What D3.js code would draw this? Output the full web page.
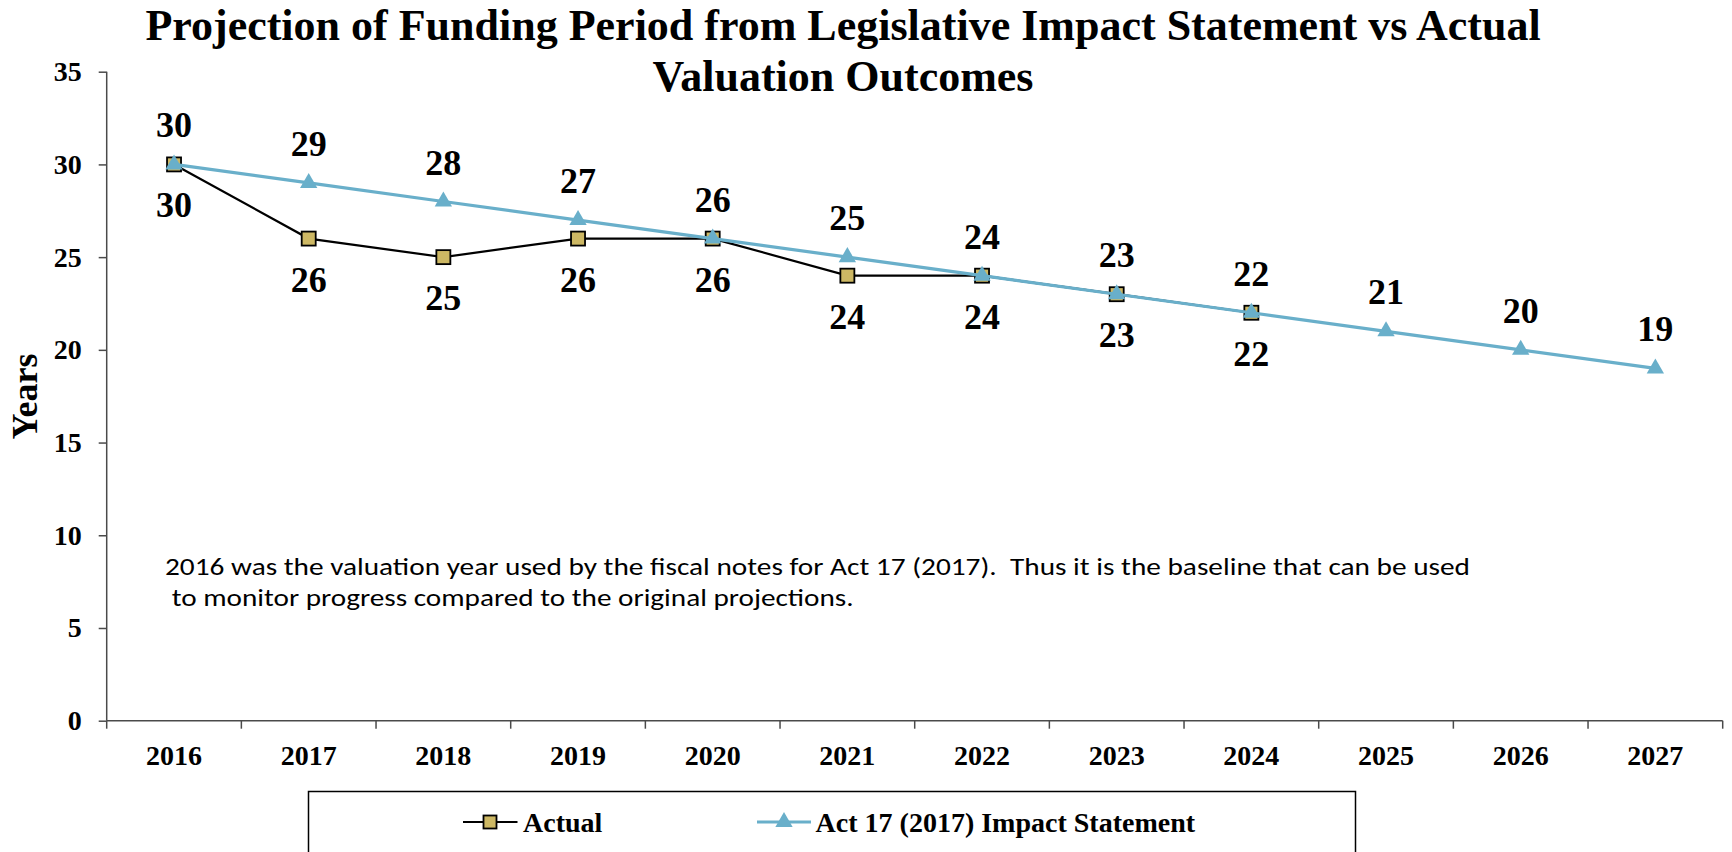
<!DOCTYPE html>
<html>
<head>
<meta charset="utf-8">
<script src="https://cdn.jsdelivr.net/npm/d3@7"></script>
<style>
  html, body { margin: 0; padding: 0; background: #fff; }
  svg { display: block; }
</style>
</head>
<body>
<script>
const years = ["2016","2017","2018","2019","2020","2021","2022","2023","2024","2025","2026","2027"];
const actual = [30, 26, 25, 26, 26, 24, 24, 23, 22];
const impact = [30, 29, 28, 27, 26, 25, 24, 23, 22, 21, 20, 19];
const yTicks = [0, 5, 10, 15, 20, 25, 30, 35];
const seriesNames = ["Actual", "Act 17 (2017) Impact Statement"];
const titleLines = ["Projection of Funding Period from Legislative Impact Statement vs Actual", "Valuation Outcomes"];
const noteLines = ["2016 was the valuation year used by the fiscal notes for Act 17 (2017).  Thus it is the baseline that can be used", "to monitor progress compared to the original projections."];

const W = 1732, H = 852;
const serif = "'Liberation Serif','Times New Roman',serif";
const blue = "#69AFCA", tan = "#CDB864", axisCol = "#4a4a4a";

const svg = d3.select("body").append("svg").attr("width", W).attr("height", H);

const x = d3.scaleBand().domain(years).range([106.7, 1722.7]).padding(0);
const y = d3.scaleLinear().domain([0, 35]).range([720.7, 71.7]);
const cx = d => x(d) + x.bandwidth() / 2;

// Title
svg.append("g").selectAll("text").data(titleLines).join("text")
  .attr("x", 843).attr("y", (d, i) => 39.5 + i * 51)
  .attr("text-anchor", "middle")
  .style("font-family", serif).style("font-weight", "bold").style("font-size", "44px")
  .text(d => d);

// Y axis
const yAxis = svg.append("g").attr("transform", `translate(${x.range()[0]},0)`)
  .call(d3.axisLeft(y).tickValues(yTicks).tickSize(8).tickPadding(17).tickFormat(d3.format("d")));
yAxis.select(".domain").attr("stroke", axisCol).attr("stroke-width", 1.5).attr("d", `M0,${y(35)}V${y(0)}`);
yAxis.selectAll(".tick line").attr("stroke", axisCol).attr("stroke-width", 1.5);
yAxis.selectAll(".tick text").style("font-family", serif).style("font-weight", "bold").style("font-size", "28px").attr("fill", "#000");

// X axis
const xAxis = svg.append("g").attr("transform", `translate(0,${y(0)})`)
  .call(d3.axisBottom(x).tickSize(0).tickPadding(24));
xAxis.select(".domain").attr("stroke", axisCol).attr("stroke-width", 1.5).attr("d", `M${x.range()[0]},0H${x.range()[1]}`);
xAxis.selectAll(".tick text").style("font-family", serif).style("font-weight", "bold").style("font-size", "28px").attr("fill", "#000");
const bounds = years.map(d => x(d)).concat([x.range()[1]]);
xAxis.append("g").selectAll("line").data(bounds).join("line")
  .attr("x1", d => d).attr("x2", d => d).attr("y1", 0).attr("y2", 8)
  .attr("stroke", axisCol).attr("stroke-width", 1.5);

// Y axis title
svg.append("text")
  .attr("transform", `translate(37.3,396.5) rotate(-90)`)
  .attr("text-anchor", "middle")
  .style("font-family", serif).style("font-weight", "bold").style("font-size", "36px")
  .text("Years");

// Note text
const noteFont = "Carlito,'Liberation Sans Narrow','Open Sans',sans-serif";
const note = svg.append("g");
note.append("text").attr("x", 165).attr("y", 575)
  .attr("textLength", 1305).attr("lengthAdjust", "spacingAndGlyphs")
  .style("white-space", "pre")
  .style("font-family", noteFont).style("font-size", "25px")
  .text(noteLines[0]);
note.append("text").attr("x", 171.7).attr("y", 605.5)
  .attr("textLength", 682).attr("lengthAdjust", "spacingAndGlyphs")
  .style("font-family", noteFont).style("font-size", "25px")
  .text(noteLines[1]);

// Lines
const actualData = actual.map((v, i) => ({ k: years[i], v }));
const impactData = impact.map((v, i) => ({ k: years[i], v }));
const line = d3.line().x(d => cx(d.k)).y(d => y(d.v));

svg.append("path").datum(actualData).attr("d", line)
  .attr("fill", "none").attr("stroke", "#000").attr("stroke-width", 2.2);
svg.append("g").selectAll("rect").data(actualData).join("rect")
  .attr("x", d => cx(d.k) - 7).attr("y", d => y(d.v) - 7)
  .attr("width", 14).attr("height", 14)
  .attr("fill", tan).attr("stroke", "#000").attr("stroke-width", 1.8);

svg.append("path").datum(impactData).attr("d", line)
  .attr("fill", "none").attr("stroke", blue).attr("stroke-width", 3.2);
const tri = d3.symbol().type(d3.symbolTriangle).size(130);
svg.append("g").selectAll("path").data(impactData).join("path")
  .attr("transform", d => `translate(${cx(d.k)},${y(d.v)})`)
  .attr("d", tri).attr("fill", blue);

// Data labels
svg.append("g").selectAll("text").data(actualData).join("text")
  .attr("x", d => cx(d.k)).attr("y", d => y(d.v) + 53)
  .attr("text-anchor", "middle")
  .style("font-family", serif).style("font-weight", "bold").style("font-size", "36px")
  .text(d => d.v);
svg.append("g").selectAll("text").data(impactData).join("text")
  .attr("x", d => cx(d.k)).attr("y", d => y(d.v) - 27)
  .attr("text-anchor", "middle")
  .style("font-family", serif).style("font-weight", "bold").style("font-size", "36px")
  .text(d => d.v);

// Legend
const lg = svg.append("g");
lg.append("rect").attr("x", 308.5).attr("y", 791.5).attr("width", 1047).attr("height", 80)
  .attr("fill", "#fff").attr("stroke", "#000").attr("stroke-width", 1.5);
const lgY = 822;
lg.append("line").attr("x1", 463).attr("x2", 517.5).attr("y1", lgY).attr("y2", lgY)
  .attr("stroke", "#000").attr("stroke-width", 2.2);
lg.append("rect").attr("x", 490 - 6.5).attr("y", lgY - 6.5).attr("width", 13).attr("height", 13)
  .attr("fill", tan).attr("stroke", "#000").attr("stroke-width", 1.8);
lg.append("text").attr("x", 523).attr("y", 831.7)
  .style("font-family", serif).style("font-weight", "bold").style("font-size", "28px")
  .text(seriesNames[0]);
lg.append("line").attr("x1", 757).attr("x2", 811).attr("y1", lgY).attr("y2", lgY)
  .attr("stroke", blue).attr("stroke-width", 3.2);
lg.append("path").attr("transform", `translate(784,${lgY})`).attr("d", tri).attr("fill", blue);
lg.append("text").attr("x", 815.6).attr("y", 831.7)
  .style("font-family", serif).style("font-weight", "bold").style("font-size", "28px")
  .text(seriesNames[1]);
</script>
</body>
</html>
